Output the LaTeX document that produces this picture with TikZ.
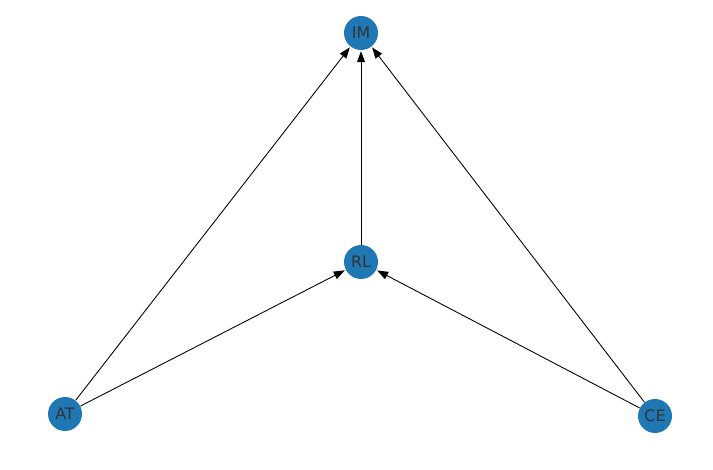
\documentclass[tikz,border=0pt]{standalone}
\usepackage{tikz}
\usepackage{fontspec}
\setmainfont{DejaVu Sans}
\usetikzlibrary{arrows.meta}
\definecolor{nodeblue}{HTML}{1F77B4}

\begin{document}
\begin{tikzpicture}[scale=1.0,
  vtx/.style={circle, fill=nodeblue, minimum size=0.68cm, inner sep=0pt, font=\small, text=black!80},
  edge/.style={-{Triangle[length=2.2mm, width=1.6mm]}, line width=0.5pt, shorten >=0.5pt}]
  \useasboundingbox (0,0) rectangle (14.26,9.38);
  \node[vtx] (im) at (7.22,8.72) {IM};
  \node[vtx] (rl) at (7.22,4.14) {RL};
  \node[vtx] (at) at (1.30,1.10) {AT};
  \node[vtx] (ce) at (13.10,1.06) {CE};
  \draw[edge] (at) -- (im);
  \draw[edge] (at) -- (rl);
  \draw[edge] (rl) -- (im);
  \draw[edge] (ce) -- (rl);
  \draw[edge] (ce) -- (im);
\end{tikzpicture}
\end{document}
